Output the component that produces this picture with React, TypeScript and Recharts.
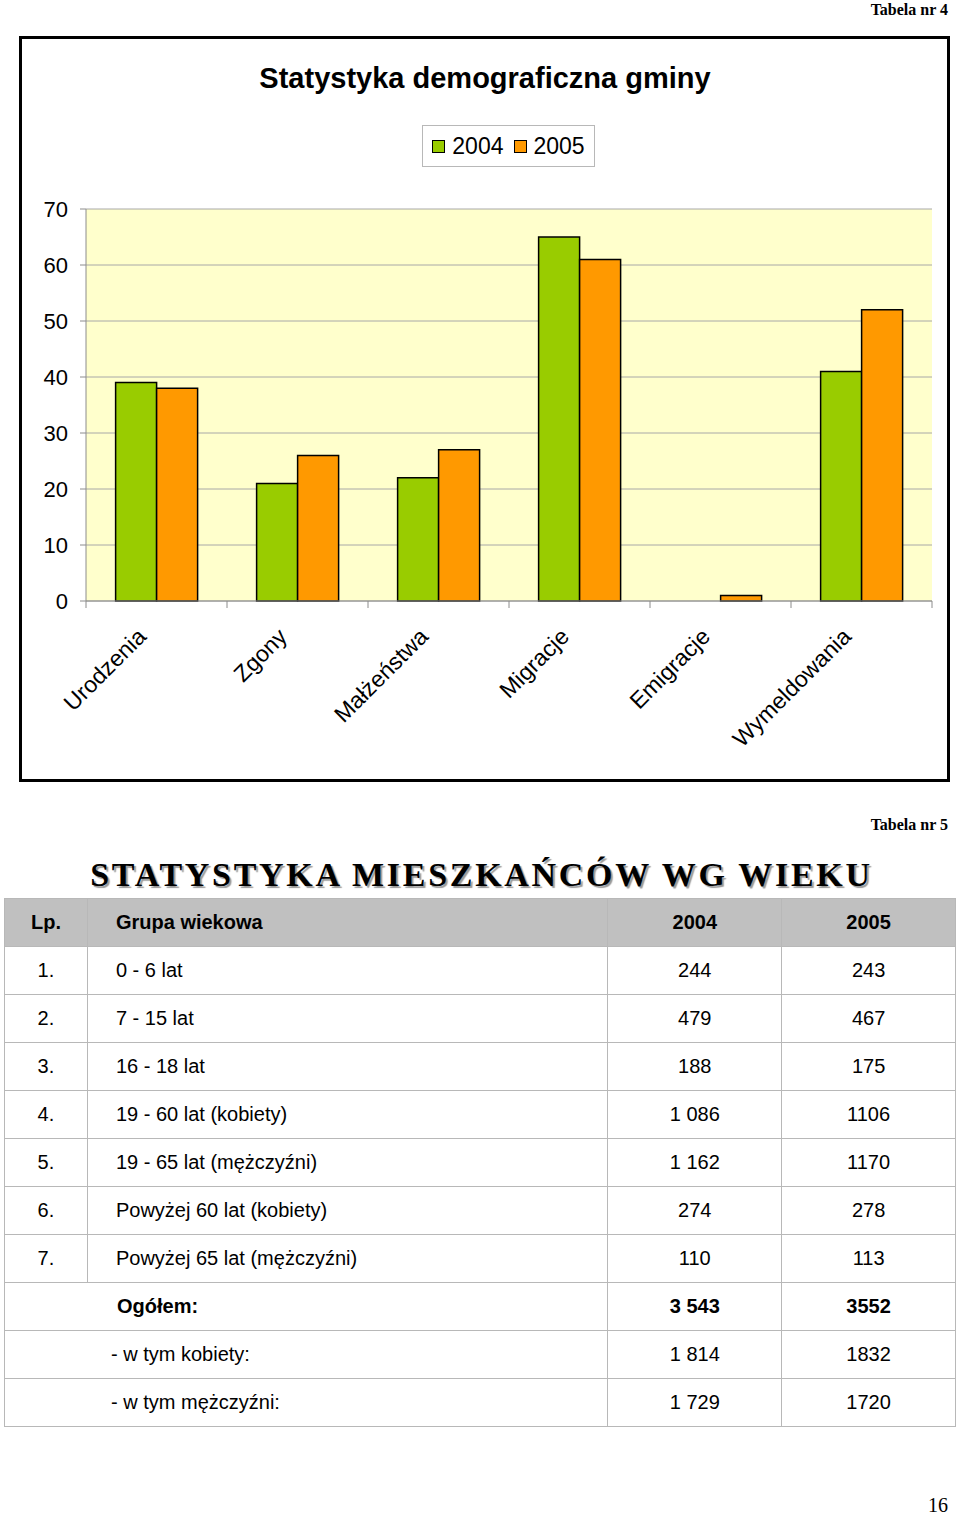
import React from "react";
import { BarChart, Bar, XAxis, YAxis, CartesianGrid } from "recharts";

// chart data (Tabela nr 4)
const categories = ["Urodzenia", "Zgony", "Małżeństwa", "Migracje", "Emigracje", "Wymeldowania"];
const values2004 = [39, 21, 22, 65, 0, 41];
const values2005 = [38, 26, 27, 61, 1, 52];
const yTicks = [0, 10, 20, 30, 40, 50, 60, 70];

// table data (Tabela nr 5)
const lpLabels = ["1.", "2.", "3.", "4.", "5.", "6.", "7."];
const ageGroups = [
  "0 - 6 lat",
  "7 - 15 lat",
  "16 - 18 lat",
  "19 - 60 lat (kobiety)",
  "19 - 65 lat (mężczyźni)",
  "Powyżej 60 lat (kobiety)",
  "Powyżej 65 lat (mężczyźni)",
];
const people2004 = ["244", "479", "188", "1 086", "1 162", "274", "110"];
const people2005 = ["243", "467", "175", "1106", "1170", "278", "113"];
const totalLabels = ["Ogółem:", "- w tym kobiety:", "- w tym mężczyźni:"];
const totals2004 = ["3 543", "1 814", "1 729"];
const totals2005 = ["3552", "1832", "1720"];

const GREEN = "#99CC00";
const ORANGE = "#FF9900";
const AXIS_GREY = "#8c8c8c";
const SANS = "'Liberation Sans', Arial, sans-serif";
const SERIF = "'Liberation Serif', 'Times New Roman', serif";

const chartData = categories.map((name, i) => ({ name, y2004: values2004[i], y2005: values2005[i] }));

// category label rotated -45deg, plus tick marks on the category boundaries
function CatTick(props: any) {
  const { x, y, payload, index, visibleTicksCount } = props;
  const off = payload?.offset ?? 0;
  const axisY = y - 7;
  const tx = x - 9;
  const ty = axisY + 37;
  return (
    <g>
      <line x1={x - off} x2={x - off} y1={axisY} y2={axisY + 7} stroke={AXIS_GREY} />
      {index === visibleTicksCount - 1 && (
        <line x1={x + off} x2={x + off} y1={axisY} y2={axisY + 7} stroke={AXIS_GREY} />
      )}
      <text
        x={tx}
        y={ty}
        transform={`rotate(-45 ${tx} ${ty})`}
        textAnchor="end"
        fontSize={23}
        fontFamily={SANS}
        fill="#000"
      >
        {payload.value}
      </text>
    </g>
  );
}

const cell: React.CSSProperties = {
  border: "1px solid #b8b8b8",
  height: 47,
  padding: 0,
  fontSize: 20,
  fontFamily: SANS,
  color: "#000",
};

export default function App() {
  return (
    <div style={{ position: "absolute", left: 0, top: 0, width: 960, height: 1515, background: "#fff", fontFamily: SANS }}>
      <div style={{ position: "absolute", right: 12, top: 0, fontFamily: SERIF, fontWeight: "bold", fontSize: 16, lineHeight: "20px" }}>
        Tabela nr 4
      </div>

      <div style={{ position: "absolute", left: 19, top: 36, width: 931, height: 746, border: "3px solid #000", boxSizing: "border-box" }} />

      <div style={{ position: "absolute", left: 0, top: 0 }}>
        <BarChart
          width={960}
          height={800}
          data={chartData}
          margin={{ top: 209, right: 28, left: 0, bottom: 49 }}
          barCategoryGap="21%"
          barGap={0}
        >
          <CartesianGrid vertical={false} stroke="#a8a8a8" fill="#FFFFCC" />
          <XAxis
            dataKey="name"
            interval={0}
            height={150}
            tickLine={false}
            tickSize={7}
            tickMargin={0}
            axisLine={{ stroke: AXIS_GREY }}
            tick={<CatTick />}
          />
          <YAxis
            domain={[0, 70]}
            ticks={yTicks}
            width={86}
            tickSize={6}
            tickMargin={12}
            axisLine={{ stroke: AXIS_GREY }}
            tickLine={{ stroke: AXIS_GREY }}
            tick={{ fill: "#000", fontSize: 22, fontFamily: SANS }}
          />
          <YAxis
            yAxisId="right"
            orientation="right"
            domain={[0, 70]}
            width={0}
            tick={false}
            tickLine={false}
            axisLine={{ stroke: AXIS_GREY }}
          />
          <Bar dataKey="y2004" name="2004" fill={GREEN} stroke="#000" strokeWidth={1.5} isAnimationActive={false} />
          <Bar dataKey="y2005" name="2005" fill={ORANGE} stroke="#000" strokeWidth={1.5} isAnimationActive={false} />
        </BarChart>
      </div>

      <div style={{ position: "absolute", left: 0, top: 58, width: 970, textAlign: "center", fontSize: 29, fontWeight: "bold", lineHeight: "40px" }}>
        Statystyka demograficzna gminy
      </div>

      <div
        style={{
          position: "absolute",
          left: 422,
          top: 125,
          width: 173,
          height: 42,
          border: "1px solid #b8b8b8",
          boxSizing: "border-box",
          display: "flex",
          alignItems: "center",
          justifyContent: "center",
          fontSize: 23,
          background: "#fff",
        }}
      >
        {[["2004", GREEN], ["2005", ORANGE]].map(([label, color], i) => (
          <span key={label} style={{ display: "flex", alignItems: "center", marginLeft: i ? 10 : 0 }}>
            <span style={{ width: 11, height: 11, background: color, border: "1px solid #000", marginRight: 7 }} />
            {label}
          </span>
        ))}
      </div>

      <div style={{ position: "absolute", right: 12, top: 815, fontFamily: SERIF, fontWeight: "bold", fontSize: 16, lineHeight: "20px" }}>
        Tabela nr 5
      </div>

      <div
        style={{
          position: "absolute",
          left: 0,
          top: 858,
          width: 963,
          textAlign: "center",
          fontFamily: SERIF,
          fontWeight: "bold",
          fontSize: 34,
          lineHeight: "34px",
          letterSpacing: 2.7,
          textShadow: "2px 2px 1px #9a9a9a",
        }}
      >
        STATYSTYKA MIESZKAŃCÓW WG WIEKU
      </div>

      <table style={{ position: "absolute", left: 4, top: 898, width: 952, borderCollapse: "collapse" }}>
        <colgroup>
          <col style={{ width: 83 }} />
          <col style={{ width: 521 }} />
          <col style={{ width: 174 }} />
          <col style={{ width: 174 }} />
        </colgroup>
        <tbody>
          <tr style={{ background: "#c0c0c0", fontWeight: "bold" }}>
            <td style={{ ...cell, textAlign: "center", fontWeight: "bold" }}>Lp.</td>
            <td style={{ ...cell, paddingLeft: 28, fontWeight: "bold" }}>Grupa wiekowa</td>
            <td style={{ ...cell, textAlign: "center", fontWeight: "bold" }}>2004</td>
            <td style={{ ...cell, textAlign: "center", fontWeight: "bold" }}>2005</td>
          </tr>
          {ageGroups.map((g, i) => (
            <tr key={g}>
              <td style={{ ...cell, textAlign: "center" }}>{lpLabels[i]}</td>
              <td style={{ ...cell, paddingLeft: 28 }}>{g}</td>
              <td style={{ ...cell, textAlign: "center" }}>{people2004[i]}</td>
              <td style={{ ...cell, textAlign: "center" }}>{people2005[i]}</td>
            </tr>
          ))}
          {totalLabels.map((t, i) => (
            <tr key={t}>
              <td colSpan={2} style={{ ...cell, paddingLeft: i === 0 ? 112 : 106, fontWeight: i === 0 ? "bold" : "normal" }}>
                {t}
              </td>
              <td style={{ ...cell, textAlign: "center", fontWeight: i === 0 ? "bold" : "normal" }}>{totals2004[i]}</td>
              <td style={{ ...cell, textAlign: "center", fontWeight: i === 0 ? "bold" : "normal" }}>{totals2005[i]}</td>
            </tr>
          ))}
        </tbody>
      </table>

      <div style={{ position: "absolute", right: 12, top: 1494, fontFamily: SERIF, fontSize: 20, lineHeight: "22px" }}>16</div>
    </div>
  );
}
